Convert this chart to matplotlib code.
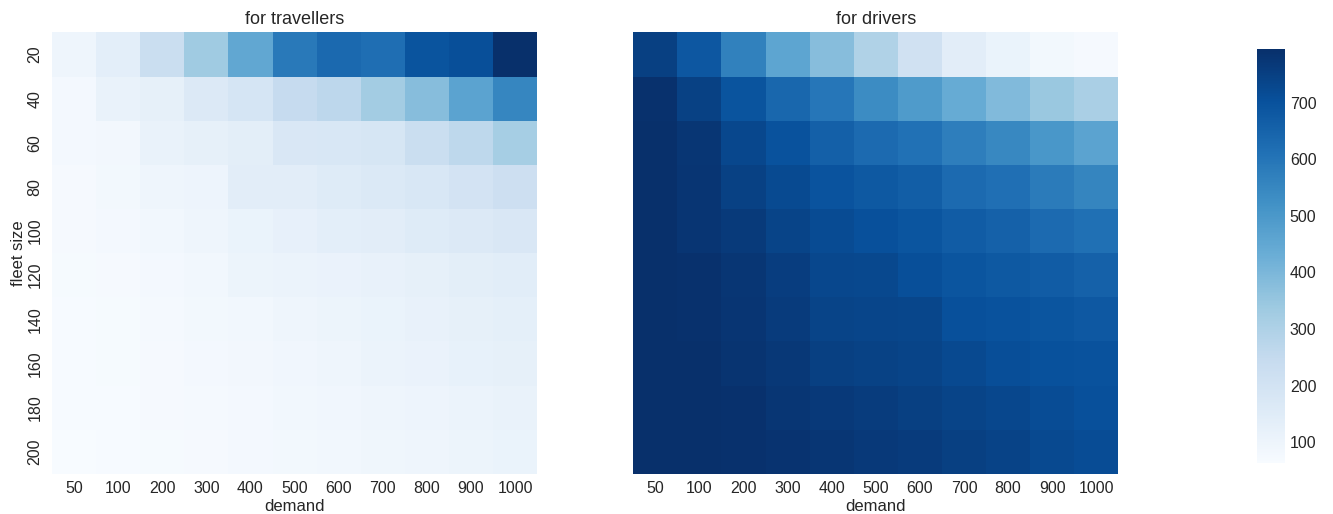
import numpy as np
import pandas as pd
import matplotlib
matplotlib.use("Agg")
import matplotlib.pyplot as plt
import seaborn as sns

sns.set_style("white")
plt.rcParams['font.family'] = ['Liberation Sans', 'DejaVu Sans']

demand = [50, 100, 200, 300, 400, 500, 600, 700, 800, 900, 1000]
fleet_size = [20, 40, 60, 80, 100, 120, 140, 160, 180, 200]

# mean waiting time seen by travellers, one row per fleet size
travellers = [
    [100, 136, 230, 334, 450, 590, 634, 620, 693, 707, 795],
    [78, 115, 128, 165, 190, 246, 268, 327, 378, 466, 553],
    [78, 85, 115, 128, 140, 175, 180, 185, 230, 265, 320],
    [72, 82, 95, 102, 142, 142, 155, 168, 178, 198, 222],
    [72, 78, 88, 98, 110, 125, 135, 142, 155, 165, 175],
    [70, 74, 80, 88, 104, 108, 112, 120, 126, 140, 145],
    [68, 70, 76, 82, 88, 96, 104, 110, 118, 128, 132],
    [67, 69, 74, 78, 84, 90, 98, 106, 112, 122, 128],
    [66, 68, 72, 76, 80, 86, 90, 96, 102, 108, 115],
    [65, 67, 70, 74, 78, 82, 86, 92, 98, 104, 110],
]

# idle time for drivers, same grid
drivers = [
    [751, 685, 568, 460, 378, 297, 210, 142, 110, 82, 72],
    [790, 748, 693, 640, 597, 535, 490, 440, 390, 345, 310],
    [795, 775, 730, 700, 660, 630, 610, 575, 548, 505, 465],
    [795, 778, 748, 722, 695, 680, 665, 630, 615, 585, 555],
    [795, 780, 765, 740, 720, 705, 690, 672, 655, 630, 612],
    [795, 790, 775, 755, 732, 728, 707, 692, 680, 670, 655],
    [795, 792, 780, 762, 740, 736, 734, 706, 698, 690, 682],
    [795, 795, 782, 770, 752, 745, 740, 725, 712, 702, 698],
    [795, 795, 790, 775, 768, 760, 752, 740, 730, 716, 706],
    [795, 795, 792, 785, 775, 768, 762, 752, 742, 726, 716],
]

df_trav = pd.DataFrame(travellers, index=fleet_size, columns=demand)
df_drv = pd.DataFrame(drivers, index=fleet_size, columns=demand)

vmin, vmax = 63, 795

fig = plt.figure(figsize=(13.33, 5.14), dpi=100)
ax1 = fig.add_axes([0.039, 0.078, 0.364, 0.859])
ax2 = fig.add_axes([0.475, 0.078, 0.364, 0.859])
cax = fig.add_axes([0.943, 0.099, 0.021, 0.806])

sns.heatmap(df_trav, ax=ax1, cmap="Blues", vmin=vmin, vmax=vmax, cbar=False)
sns.heatmap(df_drv, ax=ax2, cmap="Blues", vmin=vmin, vmax=vmax,
            cbar_ax=cax, yticklabels=False)

ax1.set_title("for travellers", fontsize=13, color="#262626")
ax2.set_title("for drivers", fontsize=13, color="#262626")
ax1.set_ylabel("fleet size", fontsize=12, color="#262626", labelpad=1)
for ax in (ax1, ax2):
    ax.set_xlabel("demand", fontsize=12, color="#262626", labelpad=2)
    ax.tick_params(axis="both", labelsize=11.5, colors="#262626", length=0)
    ax.tick_params(axis="x", pad=5)
    ax.tick_params(axis="y", pad=7)
    plt.setp(ax.get_xticklabels(), rotation=0)
plt.setp(ax1.get_yticklabels(), rotation=90, va="center")

cax.tick_params(labelsize=11.5, colors="#262626", length=0)
cax.set_yticks([100, 200, 300, 400, 500, 600, 700])
for spine in cax.spines.values():
    spine.set_visible(False)

fig.savefig("out.png", dpi=100)
